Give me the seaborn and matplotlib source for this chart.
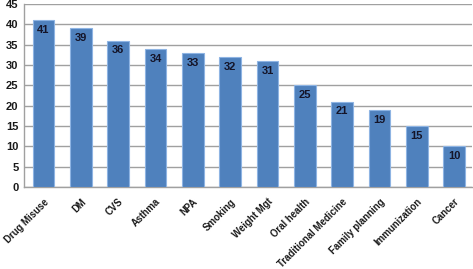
import matplotlib
matplotlib.use("Agg")
import matplotlib.pyplot as plt
import seaborn as sns
import pandas as pd

categories = ["Drug Misuse", "DM", "CVS", "Asthma", "NPA", "Smoking", "Weight Mgt",
              "Oral health", "Traditional Medicine", "Family planning", "Immunization", "Cancer"]
values = [41, 39, 36, 34, 33, 32, 31, 25, 21, 19, 15, 10]

df = pd.DataFrame({"topic": categories, "count": values})

sns.set_style("white")
plt.rcParams['font.family'] = ['Liberation Sans', 'DejaVu Sans']

fig = plt.figure(figsize=(4.73, 2.69), dpi=100)
ax = fig.add_axes([0.051, 0.305, 0.947, 0.68])

sns.barplot(data=df, x="topic", y="count", color="#4F81BD", width=0.58,
            edgecolor="#8EB4E3", linewidth=0.8, saturation=1, ax=ax, zorder=3)

ax.set_ylim(0, 45)
ax.set_yticks(range(0, 46, 5))
ax.yaxis.grid(True, color="#A0A0A0", linewidth=1, zorder=0)
ax.set_axisbelow(True)
ax.set_xlim(-0.52, 11.48)
for s in ["top", "right"]:
    ax.spines[s].set_visible(False)
for s in ["left", "bottom"]:
    ax.spines[s].set_color("#A0A0A0")
    ax.spines[s].set_linewidth(1)
ax.set_xlabel("")
ax.set_ylabel("")
ax.tick_params(axis="y", length=0, pad=4)
ax.tick_params(axis="x", length=0, pad=7)
for lbl in ax.get_yticklabels():
    lbl.set_fontsize(8)
    lbl.set_fontweight("bold")
    lbl.set_color("#1a1a1a")
ax.set_xticks(range(len(categories)))
ax.set_xticklabels(categories, rotation=45, ha="right", rotation_mode="anchor",
                   fontsize=6.9, fontweight="bold", color="#1a1a1a")

for i, v in enumerate(values):
    ax.text(i, v - 1.2, str(v), ha="center", va="top", fontsize=8,
            fontweight="bold", color="#141428", zorder=4)

fig.savefig("out.png", dpi=100)
